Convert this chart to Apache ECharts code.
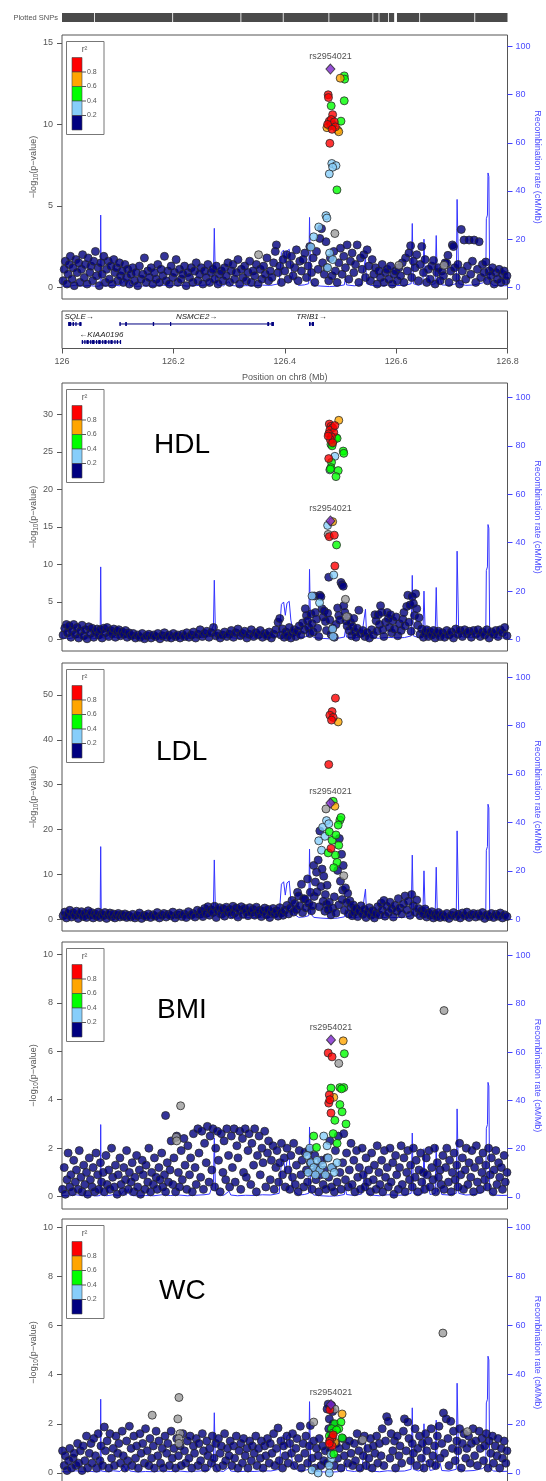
<!DOCTYPE html>
<html><head><meta charset="utf-8">
<script src="https://cdn.jsdelivr.net/npm/echarts@6/dist/echarts.min.js"></script>
<style>html,body{margin:0;padding:0;background:#fff}#c{width:546px;height:1481px}</style>
</head><body><div id="c"></div>
<script>
// ---------------- DATA ----------------
const LEAD_SNP = 'rs2954021';
const X_TICKS = [126, 126.2, 126.4, 126.6, 126.8];
const RECOMB_TICKS = [0, 20, 40, 60, 80, 100];
const LEGEND_COLORS = ['#ff0000', '#ffa500', '#00ff00', '#87cefa', '#000080'];
const LEGEND_BREAKS = ['0.8', '0.6', '0.4', '0.2'];
const PANEL_TITLES = ['', 'HDL', 'LDL', 'BMI', 'WC'];
const p1Ticks = [0, 5, 10, 15];
const p2Ticks = [0, 5, 10, 15, 20, 25, 30];
const p3Ticks = [0, 10, 20, 30, 40, 50];
const p4Ticks = [0, 2, 4, 6, 8, 10];
const p5Ticks = [0, 2, 4, 6, 8, 10];

// intervals of the "Plotted SNPs" strip (Mb)
const snpBlocks = [[126.000,126.0575],[126.0590,126.1980],[126.1995,126.3205],[126.3220,126.3965],[126.3980,126.4785],[126.4800,126.5575],[126.5590,126.5685],[126.5700,126.5855],[126.5870,126.5965],[126.6015,126.6415],[126.6430,126.7405],[126.7420,126.800]];

// recombination rate (cM/Mb)
const recombRate = [[126.000,0.6],[126.012,0.4],[126.025,0.9],[126.038,0.5],[126.050,0.7],[126.062,0.4],[126.0685,0.6],[126.0695,30.0],[126.0705,0.8],[126.080,0.5],[126.092,0.9],[126.104,0.6],[126.112,2.8],[126.115,0.7],[126.119,3.4],[126.122,0.8],[126.135,0.4],[126.150,0.6],[126.165,0.5],[126.180,0.9],[126.195,0.6],[126.210,0.8],[126.225,0.5],[126.240,0.7],[126.255,0.9],[126.265,1.2],[126.272,6],[126.2735,24.5],[126.2755,3],[126.279,1.0],[126.290,0.6],[126.300,2.4],[126.303,0.8],[126.315,0.5],[126.330,0.7],[126.345,0.6],[126.360,0.9],[126.375,0.8],[126.390,1.5],[126.394,14.5],[126.398,15.5],[126.401,10],[126.404,15.0],[126.408,15.8],[126.411,8],[126.414,4.5],[126.418,2.0],[126.425,0.8],[126.435,1.0],[126.443,1.5],[126.4445,29.0],[126.4465,2.5],[126.452,0.8],[126.465,0.5],[126.480,0.3],[126.495,0.5],[126.507,1.0],[126.509,4.0],[126.511,1.0],[126.525,0.6],[126.538,1.2],[126.545,12.5],[126.547,1.5],[126.555,0.8],[126.570,0.5],[126.585,0.9],[126.600,0.7],[126.615,0.8],[126.627,1.5],[126.629,26.5],[126.631,1.5],[126.640,0.8],[126.648,1.5],[126.650,20.0],[126.652,4.5],[126.658,5.0],[126.661,1.0],[126.670,1.5],[126.672,21.5],[126.674,2],[126.679,4.0],[126.682,1.0],[126.695,0.8],[126.708,1.5],[126.7095,36.5],[126.711,36.0],[126.7125,1.5],[126.725,0.8],[126.740,1.0],[126.755,1.8],[126.761,3.0],[126.762,28.5],[126.764,30],[126.765,47.5],[126.7665,46],[126.768,2],[126.775,0.8],[126.790,0.6],[126.800,0.7]];

// genes
const genes = [
 {name:'SQLE', start:126.011, end:126.035, strand:1, row:0, exons:[[126.011,126.0165],[126.019,126.0215],[126.024,126.026],[126.031,126.035]]},
 {name:'KIAA0196', start:126.0355, end:126.1057, strand:-1, row:1, exons:[[126.0355,126.037],[126.040,126.0415],[126.044,126.048],[126.0505,126.052],[126.054,126.0585],[126.061,126.0625],[126.065,126.0695],[126.072,126.0735],[126.076,126.080],[126.083,126.0845],[126.087,126.091],[126.094,126.0955],[126.0985,126.100],[126.104,126.1057]]},
 {name:'NSMCE2', start:126.1031, end:126.3806, strand:1, row:0, exons:[[126.1031,126.1055],[126.1135,126.1165],[126.163,126.1655],[126.194,126.196],[126.3686,126.372],[126.3758,126.3806]]},
 {name:'TRIB1', start:126.4435, end:126.4525, strand:1, row:0, exons:[[126.4435,126.4465],[126.4485,126.4525]]}
];

// ---- panel 1 ----
const p1Navy = [[126.002,0.4],[126.004,1.1],[126.006,1.6],[126.009,0.2],[126.011,0.8],[126.013,1.4],[126.015,1.9],[126.018,0.5],[126.020,1.2],[126.022,0.1],[126.025,1.7],[126.027,0.9],[126.030,1.5],[126.032,0.3],[126.035,1.1],[126.037,2.0],[126.040,0.6],[126.042,1.4],[126.045,0.2],[126.047,1.8],[126.050,0.9],[126.052,1.3],[126.055,0.4],[126.057,1.6],[126.060,2.2],[126.062,0.7],[126.065,1.2],[126.067,0.1],[126.070,1.5],[126.072,0.8],[126.075,1.9],[126.078,0.3],[126.080,1.1],[126.083,1.6],[126.085,0.5],[126.088,1.3],[126.090,0.2],[126.093,1.7],[126.095,0.9],[126.098,1.2],[126.100,0.4],[126.103,1.5],[126.105,0.7],[126.108,1.0],[126.110,0.3],[126.113,1.4],[126.116,0.6],[126.118,1.1],
[126.121,0.2],[126.124,0.8],[126.127,1.2],[126.130,0.4],[126.133,0.9],[126.136,0.1],[126.139,1.3],[126.142,0.5],[126.145,0.8],[126.148,1.8],[126.151,0.3],[126.154,1.0],[126.157,0.6],[126.160,1.2],[126.163,0.2],[126.166,0.9],[126.169,0.5],[126.172,1.4],[126.175,0.3],[126.178,1.1],[126.181,0.7],[126.184,1.9],[126.187,0.4],[126.190,1.0],[126.193,0.2],[126.196,1.3],[126.199,0.6],[126.202,0.9],[126.205,1.7],[126.208,0.3],[126.211,1.1],[126.214,0.5],[126.217,0.8],[126.220,1.3],[126.223,0.1],[126.226,0.9],[126.229,0.6],[126.232,1.2],[126.235,0.3],[126.238,1.0],[126.241,1.5],[126.244,0.4],[126.247,0.8],[126.250,1.2],[126.253,0.2],[126.256,1.0],[126.259,0.6],[126.262,1.4],[126.265,0.3],[126.268,0.9],[126.271,1.1],[126.274,0.5],[126.277,1.3],[126.280,0.2],[126.283,0.8],[126.286,1.0],[126.289,0.4],[126.292,1.2],[126.295,0.7],[126.298,1.5],
[126.301,0.3],[126.304,1.0],[126.307,1.4],[126.310,0.5],[126.313,0.9],[126.316,1.7],[126.319,0.2],[126.322,1.1],[126.325,0.6],[126.328,1.3],[126.331,0.4],[126.334,0.9],[126.337,1.6],[126.340,0.3],[126.343,1.0],[126.346,0.7],[126.349,1.4],[126.352,0.2],[126.356,1.1],[126.359,0.5],[126.362,1.3],[126.365,0.8],[126.368,1.8],[126.371,0.4],[126.374,1.0],[126.377,0.6],[126.380,1.5],[126.383,2.2],[126.385,2.6],[126.388,0.9],[126.391,1.3],[126.394,0.3],[126.397,1.7],[126.400,1.0],[126.403,2.0],[126.406,0.5],[126.409,1.4],[126.412,1.9],[126.415,0.7],[126.418,1.2],[126.421,2.3],[126.424,0.4],[126.427,1.6],[126.430,1.0],[126.433,1.7],[126.436,2.1],[126.439,0.6],[126.442,1.3],[126.445,2.5],[126.448,0.9],[126.451,1.8],[126.454,0.3],[126.457,2.2],[126.460,1.1],[126.463,3.0],[126.466,3.6],[126.468,1.5],[126.471,0.8],[126.474,2.8],
[126.476,1.2],[126.479,0.4],[126.482,1.8],[126.485,0.7],[126.488,2.2],[126.491,1.0],[126.494,0.3],[126.497,1.5],[126.500,2.4],[126.503,0.8],[126.506,1.9],[126.509,1.2],[126.512,2.6],[126.515,0.5],[126.518,1.6],[126.521,2.1],[126.524,0.9],[126.527,1.4],[126.530,2.6],[126.533,0.3],[126.536,1.8],[126.539,1.1],[126.542,2.0],[126.545,0.6],[126.548,2.3],[126.551,1.3],[126.554,0.4],[126.557,1.7],
[126.560,0.8],[126.563,1.2],[126.566,0.2],[126.569,1.0],[126.572,0.6],[126.575,1.4],[126.578,0.3],[126.581,0.9],[126.584,1.1],[126.587,0.5],[126.590,1.3],[126.593,0.2],[126.596,0.8],[126.599,1.0],[126.602,0.4],[126.605,1.2],[126.608,0.7],[126.611,1.5],[126.614,0.3],[126.617,1.8],[126.620,1.0],[126.623,2.1],[126.626,2.55],[126.628,0.6],[126.631,1.6],[126.634,1.2],[126.637,2.0],[126.640,0.4],[126.643,1.4],[126.646,2.5],[126.649,0.9],[126.652,1.7],[126.655,0.3],
[126.658,1.1],[126.661,0.5],[126.664,1.3],[126.667,1.65],[126.670,0.2],[126.673,0.9],[126.676,1.2],[126.679,0.4],[126.682,1.0],[126.685,0.7],[126.688,1.5],[126.691,1.47],[126.693,1.96],[126.695,0.3],[126.698,1.0],[126.701,2.6],[126.703,2.5],[126.705,1.2],[126.708,0.6],[126.711,1.4],[126.714,0.2],[126.717,3.55],[126.719,1.0],[126.722,2.9],[126.725,0.5],[126.728,1.3],[126.731,2.9],[126.734,0.8],[126.737,1.6],[126.740,2.9],[126.743,0.3],[126.746,1.1],[126.749,2.8],[126.752,0.6],[126.755,1.4],[126.758,0.9],[126.761,1.55],[126.764,0.4],[126.767,1.0],[126.770,0.7],[126.773,1.2],[126.776,0.2],[126.779,0.9],[126.782,0.5],[126.785,1.1],[126.788,0.3],[126.791,0.8],[126.794,1.0],[126.797,0.4],[126.799,0.7]];
const p1Grey = [[126.490,3.3],[126.353,2.0],[126.605,1.35],[126.686,1.35]];
const p1LightBlue = [[126.4845,7.6],[126.492,7.47],[126.486,7.37],[126.480,6.96],[126.474,4.4],[126.4757,4.25],[126.461,3.7],[126.452,3.1],[126.447,2.47],[126.4805,2.1],[126.486,1.7],[126.477,1.2]];
const p1Green = [[126.5068,12.98],[126.5075,12.78],[126.4834,11.14],[126.5068,11.45],[126.501,10.2],[126.480,9.9],[126.4937,5.98],[126.486,10.0]];
const p1Orange = [[126.4996,12.84],[126.4757,9.8],[126.495,9.65],[126.497,9.55]];
const p1Red = [[126.478,11.82],[126.4785,11.65],[126.486,10.6],[126.480,10.2],[126.4835,10.3],[126.483,9.95],[126.489,10.15],[126.477,10.0],[126.491,9.85],[126.481,8.84],[126.485,9.7]];
const p1Lead = [[126.482,13.4]];

// ---- panel 2 (HDL) ----
const p2Navy = [[126.002,0.6],[126.005,1.5],[126.008,2.0],[126.010,0.9],[126.013,1.8],[126.016,0.3],[126.018,1.2],[126.021,2.0],[126.024,0.7],[126.027,1.6],[126.030,0.2],[126.033,1.1],[126.036,1.9],[126.039,0.5],[126.042,1.3],[126.045,0.1],[126.048,1.7],[126.051,0.8],[126.054,1.5],[126.057,0.3],[126.060,1.0],
[126.063,1.4],[126.066,0.6],[126.069,1.3],[126.072,0.2],[126.075,1.5],[126.078,0.9],[126.081,1.6],[126.084,0.4],[126.087,1.2],[126.090,0.8],[126.093,1.4],[126.096,0.3],[126.099,1.1],[126.102,1.3],[126.105,0.5],[126.108,1.0],[126.111,0.7],[126.114,1.2],[126.117,0.3],[126.120,0.9],[126.124,0.5],[126.128,0.8],
[126.132,0.2],[126.136,0.6],[126.140,0.3],[126.144,0.8],[126.148,0.1],[126.152,0.5],[126.156,0.7],[126.160,0.2],[126.164,0.6],[126.168,0.4],[126.172,0.8],[126.176,0.1],[126.180,0.5],[126.184,0.9],[126.188,0.3],[126.192,0.6],[126.196,0.2],[126.200,0.8],[126.204,0.4],[126.208,0.6],[126.212,0.2],[126.216,0.7],[126.220,0.4],[126.224,0.9],[126.228,0.3],[126.232,0.6],[126.236,1.0],[126.240,0.2],[126.244,0.7],[126.248,1.3],[126.252,0.4],[126.256,0.8],[126.260,1.1],[126.264,0.3],[126.268,0.9],[126.272,1.6],[126.276,0.5],[126.280,0.8],[126.284,0.2],[126.288,0.6],[126.292,1.0],[126.296,0.4],[126.300,0.7],[126.304,1.2],[126.308,0.3],[126.312,0.9],[126.316,1.4],[126.320,0.5],[126.324,0.8],[126.328,1.1],[126.332,0.2],[126.336,0.7],[126.340,1.3],[126.344,0.4],[126.348,0.9],[126.352,0.6],[126.356,1.2],[126.360,0.3],[126.364,0.8],[126.368,0.5],[126.372,1.0],[126.376,0.2],[126.380,0.7],[126.384,1.3],
[126.388,2.3],[126.391,2.8],[126.393,0.6],[126.396,1.4],[126.399,0.3],[126.402,1.0],[126.405,0.5],[126.408,1.6],[126.411,0.2],[126.414,0.9],[126.417,1.3],[126.420,0.4],[126.423,1.1],[126.426,1.8],[126.429,0.6],[126.432,2.2],[126.435,1.3],[126.437,4.1],[126.439,3.2],[126.441,2.5],[126.443,1.6],[126.445,0.8],[126.447,3.4],[126.449,2.1],[126.451,1.0],[126.453,5.8],[126.455,3.6],[126.457,2.7],[126.459,1.5],[126.461,0.4],[126.463,5.9],[126.465,5.7],[126.467,4.1],[126.469,3.0],[126.471,3.8],[126.473,2.4],[126.475,1.2],[126.477,3.5],[126.479,8.3],[126.481,2.6],[126.483,0.7],
[126.486,1.5],[126.489,0.3],[126.492,2.0],[126.495,4.2],[126.497,3.2],[126.499,2.6],[126.501,7.6],[126.503,7.3],[126.505,7.1],[126.506,4.5],[126.508,3.6],[126.510,2.5],[126.512,1.8],[126.514,3.0],[126.516,1.2],[126.518,2.3],[126.520,0.5],[126.522,1.7],[126.524,2.8],[126.526,1.0],[126.528,0.3],[126.530,1.5],[126.533,3.9],[126.536,0.8],[126.540,1.2],[126.544,0.4],[126.548,0.9],[126.552,0.2],
[126.556,1.3],[126.559,0.6],[126.562,3.3],[126.564,2.5],[126.566,1.1],[126.568,3.3],[126.570,2.0],[126.572,4.5],[126.574,3.6],[126.576,1.3],[126.578,0.4],[126.581,2.3],[126.584,3.6],[126.586,2.8],[126.588,1.6],[126.590,3.3],[126.592,0.9],[126.594,2.5],[126.597,1.4],[126.600,3.0],[126.603,0.5],[126.606,2.1],[126.609,1.2],[126.612,2.7],[126.614,3.6],[126.616,1.8],[126.619,4.4],[126.621,5.9],[126.623,2.3],[126.625,4.6],[126.627,1.1],[126.629,5.7],[126.631,4.8],[126.633,3.2],[126.635,6.1],[126.637,4.1],[126.639,1.9],[126.641,2.9],[126.643,0.7],[126.646,1.4],[126.649,0.3],[126.652,0.9],[126.655,1.3],[126.658,0.4],[126.661,1.0],[126.664,0.6],[126.667,1.2],[126.670,0.2],[126.673,0.8],[126.676,1.1],[126.679,0.4],
[126.683,0.9],[126.687,0.3],[126.691,1.2],[126.695,0.6],[126.699,1.0],[126.703,0.2],[126.707,1.4],[126.711,0.7],[126.715,1.2],[126.719,0.4],[126.723,1.3],[126.727,0.8],[126.731,1.1],[126.735,0.3],[126.739,1.2],[126.743,0.7],[126.747,1.3],[126.751,0.4],[126.755,1.0],[126.759,0.6],[126.763,1.3],[126.767,0.2],[126.771,1.0],[126.775,0.7],[126.779,1.2],[126.783,0.4],[126.787,1.3],[126.791,0.9],[126.795,1.6],[126.799,0.5]];
const p2Grey = [[126.478,14.0],[126.509,5.35],[126.511,3.05]];
const p2LightBlue = [[126.490,24.4],[126.481,22.6],[126.477,15.2],[126.488,8.6],[126.449,5.8],[126.4625,4.9],[126.486,1.4],[126.487,0.4]];
const p2Green = [[126.483,26.0],[126.487,26.4],[126.492,26.9],[126.494,26.8],[126.485,25.8],[126.505,25.1],[126.506,24.8],[126.484,23.6],[126.483,22.9],[126.496,22.5],[126.492,21.7],[126.493,12.6],[126.482,22.7]];
const p2Orange = [[126.497,29.2],[126.486,15.7]];
const p2Red = [[126.480,28.7],[126.483,28.4],[126.486,28.2],[126.481,27.9],[126.488,27.6],[126.479,27.4],[126.484,27.0],[126.482,26.6],[126.490,28.5],[126.478,27.1],[126.486,26.2],[126.479,24.1],[126.480,13.7],[126.489,13.9],[126.490,9.8]];
const p2Lead = [[126.482,15.8]];

// ---- panel 3 (LDL) ----
const p3Navy = [[126.002,0.8],[126.005,1.6],[126.008,0.3],[126.011,1.2],[126.014,2.0],[126.017,0.5],[126.020,1.4],[126.023,0.9],[126.026,1.8],[126.029,0.2],[126.032,1.1],[126.035,1.7],[126.038,0.6],[126.041,1.3],[126.044,0.4],[126.047,1.9],[126.050,0.9],[126.053,1.5],[126.056,0.3],[126.059,1.2],[126.062,0.7],[126.065,1.6],[126.068,0.4],[126.071,1.1],[126.074,0.8],[126.077,1.5],[126.080,0.2],[126.083,1.0],[126.086,1.4],[126.089,0.6],[126.092,1.2],[126.095,0.3],[126.098,0.9],[126.101,1.3],[126.104,0.5],[126.107,1.0],[126.110,0.7],[126.113,1.2],[126.116,0.4],[126.119,0.9],
[126.123,0.5],[126.127,1.1],[126.131,0.3],[126.135,0.8],[126.139,1.4],[126.143,0.2],[126.147,0.9],[126.151,0.6],[126.155,1.2],[126.159,0.4],[126.163,1.0],[126.167,0.7],[126.171,1.5],[126.175,0.3],[126.179,0.9],[126.183,1.3],[126.187,0.5],[126.191,1.1],[126.195,0.8],[126.199,1.6],[126.203,0.3],[126.207,1.0],[126.211,1.4],[126.215,0.6],[126.219,1.2],[126.223,0.4],[126.227,1.7],[126.231,0.9],[126.235,1.3],[126.239,0.5],[126.243,2.0],[126.247,1.1],
[126.250,1.8],[126.253,0.6],[126.256,2.4],[126.259,1.3],[126.262,2.8],[126.265,0.9],[126.268,2.1],[126.271,1.5],[126.274,2.9],[126.277,0.4],[126.280,1.9],[126.283,2.6],[126.286,1.2],[126.289,2.3],[126.292,0.7],[126.295,2.7],[126.298,1.6],[126.301,2.2],[126.304,1.0],[126.307,2.9],[126.310,1.4],[126.313,2.5],[126.316,0.5],[126.319,2.0],[126.322,2.8],[126.325,1.1],[126.328,2.4],[126.331,1.7],[126.334,0.8],[126.337,2.6],[126.340,1.5],[126.343,2.2],[126.346,0.9],[126.349,2.7],[126.352,1.3],[126.355,2.0],[126.358,0.6],[126.361,1.8],[126.364,2.5],[126.367,1.0],[126.370,2.2],[126.373,0.4],[126.376,1.6],[126.379,2.4],[126.382,1.2],[126.385,1.9],[126.388,0.7],[126.391,2.6],[126.394,1.4],[126.397,0.9],
[126.400,2.0],[126.404,3.1],[126.407,1.2],[126.410,2.5],[126.413,4.2],[126.416,1.6],[126.418,3.5],[126.421,2.2],[126.423,6.0],[126.425,5.2],[126.427,3.0],[126.430,7.8],[126.432,1.5],[126.434,4.6],[126.436,4.5],[126.438,2.6],[126.441,9.0],[126.443,3.6],[126.446,6.0],[126.448,1.9],[126.450,3.0],[126.452,12.0],[126.453,5.1],[126.455,8.3],[126.457,10.5],[126.458,6.1],[126.460,13.2],[126.462,2.8],[126.463,19.7],[126.465,7.3],[126.467,11.2],[126.469,4.0],[126.470,9.6],[126.472,1.8],[126.473,5.5],[126.475,3.3],
[126.476,7.6],[126.478,2.2],[126.480,3.8],[126.483,1.0],[126.486,2.5],[126.489,5.0],[126.492,1.4],[126.495,10.9],[126.497,3.2],[126.498,18.0],[126.500,8.5],[126.502,14.5],[126.503,4.4],[126.504,6.5],[126.505,12.0],[126.507,2.0],[126.509,7.0],[126.511,3.7],[126.513,5.8],[126.515,1.2],[126.517,4.1],[126.519,2.6],[126.521,0.8],[126.523,3.2],[126.525,1.6],
[126.528,2.4],[126.531,0.6],[126.534,1.8],[126.537,3.0],[126.540,1.1],[126.543,2.2],[126.546,0.4],[126.549,1.5],[126.552,2.6],[126.555,0.9],[126.558,1.9],[126.561,0.3],[126.564,1.3],[126.567,2.8],[126.570,1.0],[126.573,3.6],[126.575,2.0],[126.578,4.2],[126.580,0.7],[126.583,2.9],[126.586,1.5],[126.589,3.8],[126.592,2.3],[126.595,0.5],[126.598,3.1],[126.601,1.8],[126.604,4.6],[126.607,2.5],[126.610,1.2],[126.613,3.4],[126.616,5.2],[126.619,2.1],[126.622,4.0],[126.625,0.9],[126.628,5.5],[126.631,3.0],[126.634,1.6],[126.637,4.3],[126.640,2.4],[126.643,0.8],[126.646,1.9],[126.649,1.2],[126.652,2.3],[126.655,0.5],[126.658,1.4],[126.661,0.9],[126.664,1.7],[126.667,0.3],[126.670,1.1],[126.673,0.6],[126.676,1.5],[126.679,0.4],
[126.683,1.0],[126.687,0.5],[126.691,1.3],[126.695,0.2],[126.699,0.9],[126.703,1.5],[126.707,0.6],[126.711,1.1],[126.715,0.3],[126.719,1.4],[126.723,0.8],[126.727,1.6],[126.731,0.4],[126.735,1.0],[126.739,1.3],[126.743,0.5],[126.747,1.2],[126.751,0.7],[126.755,1.5],[126.759,0.2],[126.763,1.0],[126.767,0.6],[126.771,1.3],[126.775,0.4],[126.779,1.1],[126.783,0.7],[126.787,1.4],[126.791,0.3],[126.795,1.0],[126.799,0.6]];
const p3Grey = [[126.506,9.7],[126.474,24.6]];
const p3LightBlue = [[126.475,22.0],[126.468,20.5],[126.472,18.5],[126.466,15.4],[126.479,21.3],[126.461,17.5]];
const p3Green = [[126.487,26.3],[126.499,22.1],[126.501,22.7],[126.496,21.0],[126.485,17.6],[126.491,14.3],[126.494,12.7],[126.480,19.5],[126.488,11.5],[126.478,14.8],[126.497,16.5],[126.492,18.8]];
const p3Orange = [[126.496,44.0],[126.490,25.2]];
const p3Red = [[126.491,49.3],[126.485,46.3],[126.481,45.5],[126.487,45.0],[126.484,44.4],[126.479,34.5],[126.483,15.8]];
const p3Lead = [[126.482,25.9]];

// ---- panel 4 (BMI) ----
const p4Navy = [[126.001,0.3],[126.004,1.2],[126.006,0.1],[126.009,0.7],[126.011,1.8],[126.014,0.4],[126.016,0.9],[126.019,0.2],[126.021,1.5],[126.024,0.6],[126.026,1.1],[126.029,0.3],[126.031,1.9],[126.034,0.8],[126.036,0.2],[126.039,1.3],[126.041,0.5],[126.044,1.0],[126.046,0.1],[126.049,1.6],[126.051,0.7],[126.054,0.4],[126.056,1.2],[126.059,0.2],[126.061,1.8],[126.064,0.9],[126.066,0.3],[126.069,1.4],[126.071,0.6],[126.074,1.0],[126.076,0.2],[126.079,1.7],[126.081,0.5],[126.084,1.1],[126.086,0.3],[126.089,2.0],[126.091,0.8],[126.094,0.4],[126.096,1.3],[126.099,0.1],[126.101,0.9],[126.104,1.6],[126.106,0.5],[126.109,0.2],[126.111,1.2],[126.114,0.7],[126.116,1.9],[126.119,0.3],[126.121,1.0],[126.124,0.6],[126.126,1.4],[126.129,0.2],[126.131,0.8],[126.134,1.7],[126.136,0.4],[126.139,1.1],[126.141,0.1],[126.144,1.5],[126.146,0.9],[126.149,0.3],[126.151,1.3],[126.154,0.6],[126.156,2.0],[126.159,0.2],[126.161,1.0],[126.164,0.5],[126.166,1.6],[126.169,0.8],[126.171,0.3],[126.174,1.2],[126.176,0.7],[126.179,1.8],[126.181,0.4],[126.184,0.9],[126.186,0.2],[126.189,1.4],[126.191,0.6],[126.194,1.1],
[126.196,2.3],[126.199,0.5],[126.201,1.6],[126.204,0.2],[126.206,2.5],[126.209,1.0],[126.211,0.4],[126.214,1.9],[126.216,0.7],[126.219,2.4],[126.221,1.3],[126.224,0.3],[126.226,2.1],[126.229,0.9],[126.231,1.6],[126.234,0.2],[126.236,2.6],[126.239,1.2],[126.241,0.5],[126.244,2.8],[126.246,1.8],[126.249,0.8],[126.251,2.7],[126.254,0.3],[126.256,2.2],[126.259,1.4],[126.261,2.9],[126.264,0.6],[126.266,2.5],[126.269,1.1],[126.271,2.8],[126.274,0.4],[126.276,2.0],[126.279,2.7],[126.281,1.5],[126.284,0.2],[126.286,2.6],[126.289,1.0],[126.291,2.3],[126.294,0.7],[126.296,2.8],[126.299,1.7],[126.301,0.4],[126.304,2.5],[126.306,1.2],[126.309,2.8],[126.311,0.6],[126.314,2.1],[126.316,1.6],[126.319,2.7],[126.321,0.3],[126.324,2.4],[126.326,1.0],[126.329,2.8],[126.331,0.8],[126.334,1.9],[126.336,2.6],[126.339,0.5],[126.341,2.2],[126.344,1.3],[126.346,2.8],[126.349,0.2],[126.351,1.7],[126.354,2.5],[126.356,0.9],[126.359,2.0],[126.361,1.4],[126.364,2.7],[126.366,0.4],[126.369,1.8],[126.371,2.3],[126.374,0.7],[126.376,1.5],[126.379,2.1],[126.381,0.3],[126.384,1.2],[126.386,1.9],[126.389,0.6],[126.391,1.4],[126.394,2.2],[126.396,0.9],[126.399,1.6],
[126.401,0.4],[126.404,2.0],[126.406,1.1],[126.409,0.3],[126.411,1.7],[126.414,0.8],[126.416,2.2],[126.419,0.5],[126.421,1.3],[126.424,0.2],[126.426,1.9],[126.429,0.9],[126.431,1.5],[126.434,0.4],[126.436,1.83],[126.439,1.1],[126.441,0.6],[126.444,1.93],[126.446,1.4],[126.449,0.3],[126.451,1.0],[126.454,1.7],[126.456,0.7],[126.459,1.2],[126.461,0.2],[126.464,0.9],[126.466,1.5],[126.469,0.5],[126.471,1.1],[126.474,0.3],
[126.476,1.6],[126.479,0.8],[126.481,2.3],[126.484,0.4],[126.486,1.2],[126.489,0.2],[126.491,1.9],[126.494,0.6],[126.496,2.5],[126.499,1.0],[126.501,0.3],[126.504,1.4],[126.506,2.6],[126.509,0.7],[126.511,1.8],[126.514,0.4],[126.516,1.1],[126.519,2.2],
[126.521,0.5],[126.524,1.5],[126.526,0.2],[126.529,1.9],[126.531,0.8],[126.534,1.2],[126.536,0.3],[126.539,2.0],[126.541,0.9],[126.544,0.4],[126.546,1.6],[126.549,0.6],[126.551,1.1],[126.554,0.2],[126.556,1.8],[126.559,0.7],[126.561,1.3],[126.564,0.3],[126.566,2.1],[126.569,1.0],[126.571,0.5],[126.574,1.5],[126.576,0.2],[126.579,1.9],[126.581,0.8],[126.584,1.2],[126.586,0.4],[126.589,2.0],[126.591,0.6],[126.594,1.4],[126.596,0.1],[126.599,1.7],[126.601,0.9],[126.604,0.3],[126.606,1.2],[126.609,2.1],[126.611,0.5],[126.614,1.6],[126.616,0.2],[126.619,1.0],[126.621,1.9],[126.624,0.7],[126.626,1.3],[126.629,0.4],[126.631,2.0],[126.634,0.8],[126.636,1.5],[126.639,0.2],[126.641,1.1],[126.644,1.8],[126.646,0.6],[126.649,1.0],[126.651,0.3],[126.654,1.6],[126.656,0.9],[126.659,1.9],[126.661,0.4],[126.664,1.2],[126.666,0.7],[126.669,2.0],[126.671,0.2],[126.674,1.4],[126.676,0.8],[126.679,1.1],[126.681,0.5],[126.684,1.7],[126.686,0.3],[126.689,1.2],[126.691,2.0],[126.694,0.6],[126.696,1.5],[126.699,0.2],[126.701,1.0],[126.704,1.8],[126.706,0.7],[126.709,1.3],[126.711,0.4],[126.714,2.2],[126.716,0.9],[126.719,1.6],[126.721,0.3],[126.724,1.1],[126.726,2.0],[126.729,0.5],[126.731,1.4],[126.734,0.8],[126.736,1.9],[126.739,0.2],[126.741,1.2],[126.744,2.1],[126.746,0.6],[126.749,1.5],[126.751,0.3],[126.754,1.0],[126.756,1.8],[126.759,0.7],[126.761,1.3],[126.764,0.4],[126.766,2.0],[126.769,0.9],[126.771,1.6],[126.774,0.2],[126.776,1.1],[126.779,1.9],[126.781,0.5],[126.784,1.4],[126.786,0.8],[126.789,1.2],[126.791,0.3],[126.794,1.7],[126.796,0.6],[126.799,1.0],[126.186,3.35]];
const p4Grey = [[126.497,5.5],[126.686,7.68],[126.213,3.75],[126.205,2.45],[126.206,2.3]];
const p4LightBlue = [[126.470,2.5],[126.445,2.0],[126.440,1.7],[126.447,1.4],[126.452,1.2],[126.458,1.5],[126.463,1.1],[126.468,1.3],[126.473,0.9],[126.478,1.6],[126.484,1.2],[126.489,1.0],[126.494,1.4],[126.455,0.9],[126.442,1.0],[126.476,2.1]];
const p4Green = [[126.507,5.9],[126.483,4.48],[126.499,4.5],[126.506,4.5],[126.502,4.45],[126.499,3.8],[126.490,3.15],[126.510,3.0],[126.452,2.5],[126.457,2.03],[126.494,2.2],[126.487,2.6],[126.503,3.5]];
const p4Orange = [[126.505,6.43],[126.488,4.1]];
const p4Red = [[126.478,5.93],[126.485,5.77],[126.480,4.2],[126.479,3.86],[126.483,3.45],[126.481,4.0]];
const p4Lead = [[126.483,6.47]];

// ---- panel 5 (WC) ----
const p5Navy = [[126.001,0.9],[126.004,0.3],[126.006,0.7],[126.009,0.1],[126.012,0.5],[126.014,1.0],[126.017,0.2],[126.020,0.6],[126.022,0.8],[126.025,0.3],[126.028,1.2],[126.030,0.4],[126.033,0.9],[126.036,0.1],[126.038,1.1],[126.041,0.5],[126.044,1.5],[126.046,0.2],[126.049,0.8],[126.052,1.2],[126.054,0.4],[126.057,1.4],[126.060,0.7],[126.062,0.2],[126.065,1.6],[126.068,0.5],[126.070,1.1],[126.073,0.3],[126.076,1.87],[126.078,0.9],[126.081,1.3],[126.084,0.2],[126.086,1.6],[126.089,0.6],[126.092,1.0],[126.094,0.3],[126.097,1.5],[126.100,0.8],
[126.102,1.2],[126.105,0.4],[126.108,1.7],[126.110,0.7],[126.113,0.2],[126.116,1.3],[126.118,0.5],[126.121,1.9],[126.124,1.0],[126.126,0.3],[126.129,1.5],[126.132,0.6],[126.134,1.1],[126.137,0.2],[126.140,1.6],[126.142,0.8],[126.145,1.2],[126.148,0.4],[126.150,1.8],[126.153,0.9],[126.156,0.3],[126.158,1.4],[126.161,0.6],[126.164,1.1],[126.166,0.2],[126.169,1.7],[126.172,0.7],[126.174,1.3],[126.177,0.4],[126.180,1.0],[126.182,0.2],[126.185,1.5],[126.188,0.8],[126.190,1.2],[126.193,0.3],[126.196,1.7],[126.198,0.6],[126.201,1.0],[126.204,0.2],[126.206,1.4],[126.209,0.7],[126.212,1.1],[126.214,0.3],[126.217,1.6],[126.220,0.9],[126.222,0.4],[126.225,1.3],[126.228,0.6],[126.230,1.5],[126.233,0.2],[126.236,1.1],[126.238,0.8],[126.241,1.4],[126.244,0.3],[126.246,1.2],[126.249,0.5],[126.252,1.6],[126.254,0.9],[126.257,0.2],[126.260,1.3],[126.262,0.7],[126.265,1.0],[126.268,0.4],[126.270,1.5],[126.273,0.6],[126.276,1.2],[126.278,0.2],[126.281,1.4],[126.284,0.8],[126.286,1.1],[126.289,0.3],[126.292,1.6],[126.294,0.5],[126.297,1.0],[126.300,0.7],
[126.302,1.3],[126.305,0.3],[126.308,1.1],[126.310,0.6],[126.313,1.5],[126.316,0.2],[126.318,0.9],[126.321,1.2],[126.324,0.4],[126.326,1.4],[126.329,0.7],[126.332,1.0],[126.334,0.2],[126.337,1.3],[126.340,0.5],[126.342,1.1],[126.345,0.8],[126.348,1.5],[126.350,0.3],[126.353,1.0],[126.356,0.6],[126.358,1.3],[126.361,0.2],[126.364,1.1],[126.366,0.7],[126.369,1.4],[126.372,0.4],[126.374,1.2],[126.377,0.8],[126.380,1.6],[126.382,0.3],[126.385,1.0],[126.388,1.83],[126.390,0.5],[126.393,1.3],[126.396,0.2],[126.398,1.1],[126.401,0.7],[126.404,1.5],[126.406,0.4],[126.409,1.2],[126.412,0.8],[126.414,1.6],[126.417,0.3],[126.420,1.0],[126.422,1.4],[126.425,0.6],[126.428,1.9],[126.430,0.2],[126.433,1.2],[126.436,0.8],[126.438,1.5],[126.441,0.4],[126.444,1.1],[126.446,1.93],[126.449,0.6],[126.452,1.3],[126.454,0.2],[126.457,1.0],[126.460,0.7],[126.462,1.4],[126.465,0.3],[126.468,1.1],[126.470,0.5],[126.473,0.9],
[126.476,2.6],[126.478,2.8],[126.484,2.75],[126.486,2.5],[126.480,2.2],[126.479,1.8],[126.483,1.6],[126.487,2.0],[126.476,0.4],[126.482,0.9],[126.489,0.3],[126.492,1.2],[126.495,0.6],[126.498,1.0],[126.501,0.2],[126.504,1.4],[126.507,0.7],[126.510,1.1],[126.513,0.4],[126.516,1.3],[126.519,0.8],[126.522,0.3],
[126.525,1.2],[126.527,0.5],[126.530,1.6],[126.533,0.9],[126.535,0.2],[126.538,1.3],[126.541,0.7],[126.543,1.5],[126.546,0.3],[126.549,1.0],[126.551,0.6],[126.554,1.4],[126.557,0.2],[126.559,1.1],[126.562,0.8],[126.565,1.5],[126.567,0.4],[126.570,1.2],[126.573,0.7],[126.575,1.8],[126.578,0.3],[126.581,1.3],[126.583,2.29],[126.586,2.1],[126.589,0.6],[126.591,1.6],[126.594,0.9],[126.597,1.3],[126.599,0.2],[126.602,1.5],[126.605,0.7],[126.607,1.1],[126.610,0.4],[126.613,1.7],[126.615,2.2],[126.618,0.9],[126.621,2.07],[126.623,1.4],[126.626,0.5],[126.629,1.2],[126.631,0.8],[126.634,1.8],[126.637,0.3],[126.639,1.0],[126.642,1.5],[126.645,0.6],[126.647,1.2],[126.650,0.2],[126.653,1.6],[126.655,0.9],[126.658,1.3],[126.661,0.4],[126.663,1.8],[126.666,0.7],[126.669,1.1],[126.671,0.3],[126.674,1.5],[126.677,1.9],[126.679,0.6],[126.682,1.2],[126.685,2.44],[126.687,0.8],[126.690,2.2],[126.693,1.4],[126.695,0.3],[126.698,2.1],[126.701,1.0],[126.703,1.7],[126.706,0.5],[126.709,1.3],[126.711,0.9],[126.714,1.8],[126.717,0.2],[126.719,1.2],[126.722,1.6],[126.725,0.6],[126.727,1.0],[126.730,1.5],[126.733,0.4],[126.735,1.2],[126.738,1.8],[126.741,0.7],[126.743,1.3],[126.746,0.3],[126.749,1.7],[126.751,1.0],[126.754,1.4],[126.757,0.5],[126.759,1.1],[126.762,1.6],[126.765,0.2],[126.767,1.3],[126.770,0.8],[126.773,1.5],[126.775,0.4],[126.778,1.1],[126.781,0.7],[126.783,1.4],[126.786,0.2],[126.789,1.0],[126.791,0.6],[126.794,1.3],[126.797,0.4],[126.799,0.9]];
const p5Grey = [[126.210,3.07],[126.208,2.2],[126.162,2.35],[126.212,1.6],[126.210,1.4],[126.210,1.2],[126.452,2.07],[126.684,5.69],[126.728,1.68],[126.490,2.6],[126.540,1.35]];
const p5LightBlue = [[126.484,0.58],[126.480,0.3],[126.449,0.12],[126.460,0.0],[126.480,0.0],[126.483,0.75]];
const p5Green = [[126.490,2.0],[126.501,2.07],[126.484,1.8],[126.497,1.8],[126.503,1.43],[126.487,1.63],[126.488,0.77],[126.493,1.75],[126.480,1.5]];
const p5Orange = [[126.503,2.4],[126.481,1.32],[126.490,1.25]];
const p5Red = [[126.481,2.57],[126.485,1.43],[126.481,1.3],[126.485,1.1],[126.480,1.2],[126.487,1.55]];
const p5Lead = [[126.483,2.78]];

// ---------------- LAYOUT / STYLE ----------------
const FONT = '"Liberation Sans", Arial, Helvetica, sans-serif';
const GL = 62, GR = 38.5;
const C = {navy:'#000080', grey:'#9c9c9c', lblue:'#87cefa', green:'#00ff00', orange:'#ffa500', red:'#ff0000', lead:'#7d26cd'};
const panels = [
  {grid:1, top:35,   height:264, yMin:-0.72, yMax:15.49, rMin:-4.86, rMax:104.8, ticks:p1Ticks, d:[p1Navy,p1Grey,p1LightBlue,p1Green,p1Orange,p1Red,p1Lead]},
  {grid:3, top:383,  height:268, yMin:-1.53, yMax:34.17, rMin:-4.75, rMax:106.0, ticks:p2Ticks, d:[p2Navy,p2Grey,p2LightBlue,p2Green,p2Orange,p2Red,p2Lead]},
  {grid:4, top:663,  height:268, yMin:-2.61, yMax:57.13, rMin:-4.83, rMax:105.8, ticks:p3Ticks, d:[p3Navy,p3Grey,p3LightBlue,p3Green,p3Orange,p3Red,p3Lead]},
  {grid:5, top:942,  height:267, yMin:-0.51, yMax:10.51, rMin:-5.0,  rMax:105.7, ticks:p4Ticks, d:[p4Navy,p4Grey,p4LightBlue,p4Green,p4Orange,p4Red,p4Lead]},
  {grid:6, top:1219, height:267, yMin:-0.53, yMax:10.33, rMin:-5.3,  rMax:103.3, ticks:p5Ticks, d:[p5Navy,p5Grey,p5LightBlue,p5Green,p5Orange,p5Red,p5Lead]}
];
const titlePos = [null, {left:154, top:431}, {left:156, top:738}, {left:157, top:996}, {left:159, top:1277}];

const baseGrid = {left:GL, right:GR, containLabel:false, outerBoundsMode:'none'};
const grids = [
  Object.assign({}, baseGrid, {top:13, height:9, show:false}),
  null,
  Object.assign({}, baseGrid, {top:311, height:37.5, show:true, borderColor:'#555', borderWidth:1})
];
panels.forEach(p => { grids[p.grid] = Object.assign({}, baseGrid, {top:p.top, height:p.height, show:true, borderColor:'#555', borderWidth:1}); });

const xAxes = [], yAxes = [], series = [];
const hiddenX = i => ({gridIndex:i, type:'value', min:126, max:126.8, axisLine:{show:false, onZero:false}, axisTick:{show:false}, axisLabel:{show:false}, splitLine:{show:false}});
for (let i = 0; i < 7; i++) xAxes.push(hiddenX(i));
// gene track x axis with labels
Object.assign(xAxes[2], {
  position:'bottom',
  axisLine:{show:false, onZero:false},
  axisTick:{show:true, customValues:X_TICKS, length:5, lineStyle:{color:'#555'}},
  axisLabel:{show:true, customValues:X_TICKS, color:'#555', fontSize:9, margin:9, fontFamily:FONT, formatter: v => String(+v.toFixed(1))},
  name:'Position on chr8 (Mb)', nameLocation:'middle', nameGap:25, nameMoveOverlap:false, nameTextStyle:{color:'#555', fontSize:9, fontFamily:FONT}
});

// yAxes
yAxes.push({gridIndex:0, type:'value', min:0, max:1, show:false}); // 0 strip
const yIndex = {};
function addPanelAxes(p) {
  yIndex[p.grid] = yAxes.length;
  yAxes.push({gridIndex:p.grid, type:'value', position:'left', min:p.yMin, max:p.yMax,
    axisLine:{show:false, onZero:false}, splitLine:{show:false},
    axisTick:{show:true, customValues:p.ticks, length:5, lineStyle:{color:'#555'}},
    axisLabel:{customValues:p.ticks, color:'#555', fontSize:9, margin:9, fontFamily:FONT},
    name:'{t|\u2212log}{s|10}{t|(p\u2212value)}', nameLocation:'middle', nameGap:22, nameMoveOverlap:false,
    nameTextStyle:{color:'#555', fontFamily:FONT, rich:{t:{fontSize:9, lineHeight:12, color:'#555', fontFamily:FONT}, s:{fontSize:6.5, lineHeight:7, verticalAlign:'bottom', color:'#555', fontFamily:FONT}}}
  });
  yAxes.push({gridIndex:p.grid, type:'value', position:'right', min:p.rMin, max:p.rMax,
    axisLine:{show:false, onZero:false}, splitLine:{show:false},
    axisTick:{show:true, customValues:RECOMB_TICKS, length:5, lineStyle:{color:'#4040ff'}},
    axisLabel:{customValues:RECOMB_TICKS, color:'#4b4bff', fontSize:9, margin:8, fontFamily:FONT},
    name:'Recombination rate (cM/Mb)', nameLocation:'middle', nameGap:25, nameRotate:-90, nameMoveOverlap:false,
    nameTextStyle:{color:'#4b4bff', fontSize:9, fontFamily:FONT}
  });
}
addPanelAxes(panels[0]);
const geneY = yAxes.length;
yAxes.push({gridIndex:2, type:'value', inverse:true, min:-0.72, max:1.36, show:false});
panels.slice(1).forEach(addPanelAxes);

// strip series
series.push({type:'custom', xAxisIndex:0, yAxisIndex:0, silent:true, data:snpBlocks,
  renderItem:(params, api) => {
    const a = api.coord([api.value(0), 1]), b = api.coord([api.value(1), 0]);
    return {type:'rect', shape:{x:a[0], y:a[1], width:Math.max(b[0]-a[0], 0.5), height:b[1]-a[1]}, style:{fill:'#4a4a4a'}};
  }});

// gene series
series.push({type:'custom', xAxisIndex:2, yAxisIndex:geneY, silent:true, clip:false,
  data:genes.map((g, i) => [g.start, g.end, g.row, i]),
  renderItem:(params, api) => {
    const g = genes[api.value(3)];
    const p0 = api.coord([g.start, g.row]), p1 = api.coord([g.end, g.row]);
    const y = p0[1];
    const ch = [{type:'line', shape:{x1:p0[0], y1:y, x2:p1[0], y2:y}, style:{stroke:'#000080', lineWidth:1}}];
    g.exons.forEach(e => {
      const a = api.coord([e[0], g.row])[0], b = api.coord([e[1], g.row])[0];
      ch.push({type:'rect', shape:{x:a, y:y-2, width:Math.max(b-a, 1.2), height:4}, style:{fill:'#000080'}});
    });
    const label = g.strand > 0 ? g.name + '\u2192' : '\u2190' + g.name;
    const half = (g.name.length * 4.6 + 8) / 2;
    const cx = Math.max((p0[0] + p1[0]) / 2, GL + half + 4);
    ch.push({type:'text', x:cx, y:y-7.5, style:{text:label, align:'center', verticalAlign:'middle', textAlign:'center', textVerticalAlign:'middle', fontSize:8, fontStyle:'italic', fill:'#222', fontFamily:FONT}});
    return {type:'group', children:ch};
  }});

const classes = ['navy','grey','lblue','green','orange','red','lead'];
panels.forEach(p => {
  const xi = p.grid, yl = yIndex[p.grid];
  series.push({type:'line', xAxisIndex:xi, yAxisIndex:yl+1, data:recombRate, showSymbol:false, silent:true, z:1,
    lineStyle:{color:'#3434ff', width:1}});
  p.d.forEach((arr, k) => {
    const cls = classes[k];
    const isLead = cls === 'lead';
    series.push({type:'scatter', xAxisIndex:xi, yAxisIndex:yl, silent:true, z:2 + k,
      data: isLead ? arr.map(v => ({value:v, name:LEAD_SNP})) : arr,
      symbol: isLead ? 'diamond' : 'circle',
      symbolSize: isLead ? [9, 10] : 8,
      itemStyle:{color:C[cls], borderColor:'#2a2a2a', borderWidth:1},
      label: isLead ? {show:true, position:'top', distance:2, formatter:'{b}', color:'#222', fontSize:9, fontFamily:FONT} : {show:false}
    });
  });
});

// titles
const titles = [];
PANEL_TITLES.forEach((t, i) => { if (t) titles.push({text:t, left:titlePos[i].left, top:titlePos[i].top, padding:0, textStyle:{fontSize:28, fontWeight:'normal', color:'#000', fontFamily:FONT}}); });

// graphic: "Plotted SNPs" label and r^2 legends
const graphics = [{type:'text', x:58, y:17.5, style:{text:'Plotted SNPs', align:'right', verticalAlign:'middle', textAlign:'right', textVerticalAlign:'middle', fontSize:7.5, fill:'#555', fontFamily:FONT}}];
panels.forEach(p => {
  const x0 = 66.5, y0 = p.top + 6.5, bh = 14.5, by = y0 + 16;
  const ch = [{type:'rect', shape:{x:x0, y:y0, width:37.5, height:93}, style:{fill:'#fff', stroke:'#777', lineWidth:1}}];
  ch.push({type:'text', x:x0 + 18, y:y0 + 8, style:{text:'r\u00b2', align:'center', verticalAlign:'middle', textAlign:'center', textVerticalAlign:'middle', fontSize:8.5, fill:'#555', fontFamily:FONT}});
  LEGEND_COLORS.forEach((c, i) => ch.push({type:'rect', shape:{x:x0 + 5.5, y:by + i * bh, width:10, height:bh}, style:{fill:c, stroke:'#444', lineWidth:0.6}}));
  LEGEND_BREAKS.forEach((t, i) => {
    const yy = by + (i + 1) * bh;
    ch.push({type:'line', shape:{x1:x0 + 15.5, y1:yy, x2:x0 + 19.5, y2:yy}, style:{stroke:'#555', lineWidth:1}});
    ch.push({type:'text', x:x0 + 20.5, y:yy, style:{text:t, align:'left', verticalAlign:'middle', textAlign:'left', textVerticalAlign:'middle', fontSize:7, fill:'#555', fontFamily:FONT}});
  });
  graphics.push({type:'group', children:ch, z:10});
});

const chart = echarts.init(document.getElementById('c'), null, {renderer:'canvas'});
chart.setOption({
  animation:false,
  backgroundColor:'#fff',
  textStyle:{fontFamily:FONT},
  title:titles,
  grid:grids,
  xAxis:xAxes,
  yAxis:yAxes,
  series:series,
  graphic:{elements:graphics}
});
</script></body></html>
